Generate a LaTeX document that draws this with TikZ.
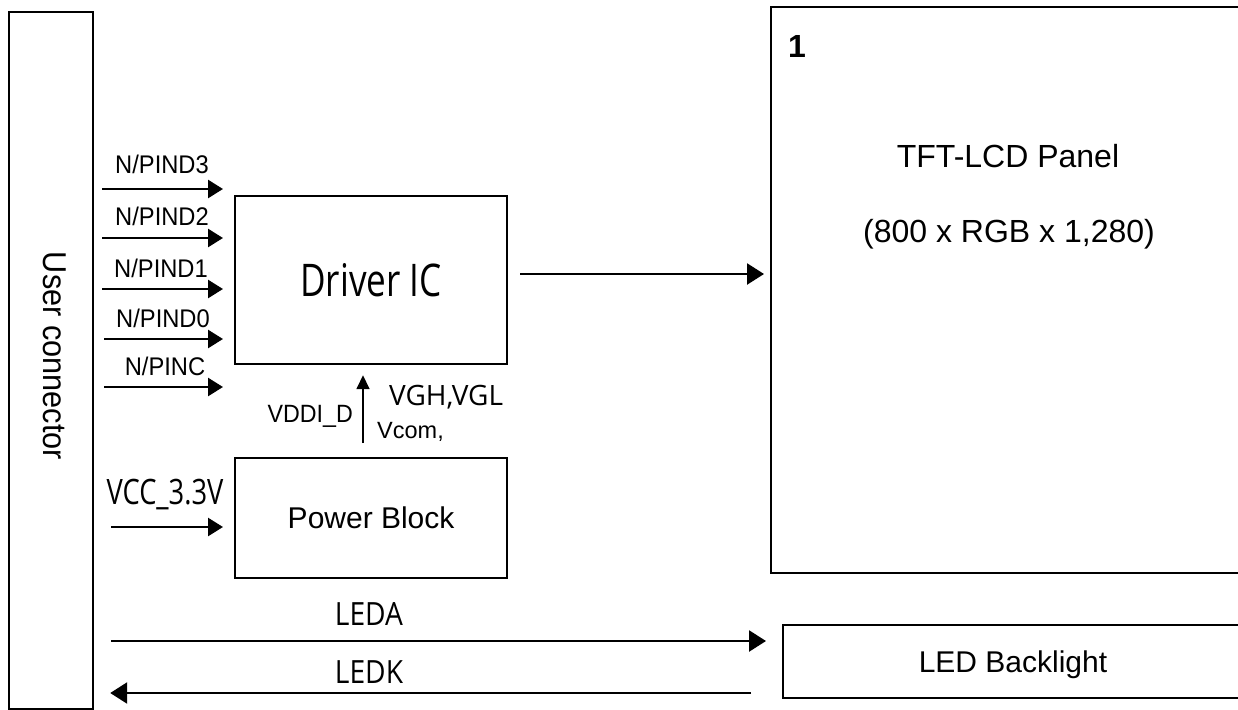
\documentclass[tikz,border=0pt]{standalone}
\usepackage{fontspec}
\setmainfont{Liberation Sans}
\newfontfamily\arN[FakeStretch=0.93]{Liberation Sans}
\newfontfamily\osA[FakeStretch=0.78]{Open Sans}
\newfontfamily\osB[FakeStretch=0.88]{Open Sans}
\newfontfamily\osC{Open Sans}
\usetikzlibrary{arrows.meta}
\tikzset{
  box/.style={draw, line width=2.2pt, inner sep=0pt},
  sig/.style={line width=2.6pt, -{Triangle[length=15pt,width=18pt]}},
  sigb/.style={line width=2.4pt, -{Triangle[length=17pt,width=21pt]}},
  thinarr/.style={line width=1.6pt, -{Triangle[length=14pt,width=13pt]}},
  lbl/.style={inner sep=0pt, anchor=base, font=\arN\fontsize{25.5}{30}\selectfont},
}
\begin{document}
\begin{tikzpicture}[x=1pt,y=-1pt]
\useasboundingbox (0,0) rectangle (1238,709);
\clip (0,0) rectangle (1238,709);
\fill[white] (0,0) rectangle (1238,709);

% blocks
\node[box, anchor=north west, minimum width=84pt, minimum height=697pt] (uc) at (8,11) {};
\node[inner sep=0pt, anchor=base, rotate=-90, font=\arN\fontsize{33}{38}\selectfont] (uct) at (43,356) {User connector};

\node[box, anchor=north west, minimum width=272pt, minimum height=168pt,
      font=\osA\fontsize{45}{54}\selectfont] (drv) at (234,195) {Driver IC};
\node[box, anchor=north west, minimum width=272pt, minimum height=120pt,
      font=\fontsize{30}{36}\selectfont] (pwr) at (234,457) {Power Block};

\node[box, anchor=north west, minimum width=476pt, minimum height=566pt] (panel) at (770,6) {};
\node[inner sep=0pt, anchor=base, font=\bfseries\fontsize{32}{38}\selectfont] (one) at (797,57) {1};
\node[inner sep=0pt, anchor=base, font=\fontsize{32}{38}\selectfont] (pt1) at (1008,167) {TFT-LCD Panel};
\node[inner sep=0pt, anchor=base, font=\fontsize{32}{38}\selectfont] (pt2) at (1009,242) {(800 x RGB x 1,280)};

\node[box, anchor=north west, minimum width=462pt, minimum height=73pt] (led) at (782,624) {};
\node[inner sep=0pt, anchor=base, font=\fontsize{30}{36}\selectfont] (ledt) at (1013,672) {LED Backlight};

% input signal labels
\node[lbl] (l3) at (162,173) {N/PIND3};
\node[lbl] (l2) at (162,225) {N/PIND2};
\node[lbl] (l1) at (161,277) {N/PIND1};
\node[lbl] (l0) at (163,327) {N/PIND0};
\node[lbl] (lc) at (165,375) {N/PINC};

% input arrows
\coordinate (i3) at (102,189);
\coordinate (i2) at (102,238);
\coordinate (i1) at (102,289);
\coordinate (i0) at (104,339);
\coordinate (ic) at (104,387);
\foreach \c in {i3,i2,i1,i0,ic}
  \draw[sig, shorten >=11pt] (\c) -- (\c -| drv.west);

% VCC input
\node[inner sep=0pt, anchor=base, font=\osA\fontsize{35}{42}\selectfont] (vcc) at (165,504) {VCC\_3.3V};
\coordinate (iv) at (111,527);
\draw[sig, shorten >=11pt] (iv) -- (iv -| pwr.west);

% power to driver
\coordinate (vx) at (363,0);
\draw[thinarr, shorten <=14pt, shorten >=10pt] (pwr.north -| vx) -- (drv.south -| vx);
\node[inner sep=0pt, anchor=base east, font=\arN\fontsize{25}{30}\selectfont] (vddi) at (353,422) {VDDI\_D};
\node[inner sep=0pt, anchor=base west, font=\osC\fontsize{28}{34}\selectfont] (vgh) at (389,405) {VGH,VGL};
\node[inner sep=0pt, anchor=base west, font=\fontsize{23.5}{28}\selectfont] (vcom) at (377,438) {Vcom,};

% driver to panel
\coordinate (ya) at (0,274);
\draw[sigb, shorten <=12pt, shorten >=6pt] (drv.east |- ya) -- (panel.west |- ya);

% LED lines
\node[inner sep=0pt, anchor=base, font=\osB\fontsize{32}{38}\selectfont] (leda) at (369,625) {LEDA};
\node[inner sep=0pt, anchor=base, font=\osB\fontsize{32}{38}\selectfont] (ledk) at (369,683) {LEDK};
\coordinate (la) at (111,641);
\coordinate (lk) at (751,693);
\draw[sigb, shorten >=16pt] (la) -- (la -| led.west);
\draw[sigb, shorten >=16pt] (lk) -- (lk -| uc.east);
\end{tikzpicture}
\end{document}
